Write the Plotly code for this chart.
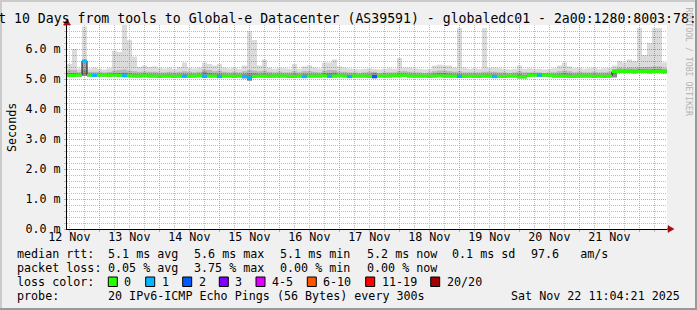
import plotly.graph_objects as go
import pandas as pd

# ---------------- data ----------------
start_time = "2025-11-12 11:04:21"
end_time = "2025-11-22 11:04:21"
bin_hours = 2

# median rtt per 2-hour bin (ms)
med = [5.12, 5.12, 5.13, 5.60, 5.13, 5.12, 5.13, 5.13, 5.12, 5.13,
       5.12, 5.11, 5.11, 5.10, 5.10, 5.11, 5.10, 5.10, 5.09, 5.10,
       5.10, 5.09, 5.10, 5.09, 5.10, 5.10, 5.11, 5.09, 5.10, 5.10,
       5.08, 5.10, 5.10, 5.09, 5.10, 5.08, 5.04, 5.09, 5.10, 5.10,
       5.09, 5.10, 5.10, 5.10, 5.09, 5.09, 5.10, 5.08, 5.10, 5.10,
       5.10, 5.11, 5.09, 5.10, 5.11, 5.10, 5.08, 5.10, 5.10, 5.10,
       5.09, 5.08, 5.10, 5.10, 5.10, 5.11, 5.11, 5.12, 5.10, 5.10,
       5.10, 5.10, 5.09, 5.10, 5.11, 5.10, 5.10, 5.10, 5.09, 5.09,
       5.10, 5.09, 5.09, 5.10, 5.10, 5.08, 5.09, 5.09, 5.10, 5.10,
       5.07, 5.07, 5.12, 5.13, 5.12, 5.13, 5.12, 5.10, 5.10, 5.10,
       5.09, 5.09, 5.10, 5.10, 5.10, 5.09, 5.10, 5.09, 5.10, 5.25,
       5.25, 5.25, 5.25, 5.24, 5.25, 5.25, 5.24, 5.25, 5.25, 5.24]

# lost pings (of 20) per bin
loss = [0, 0, 0, 1, 0, 1, 0, 0, 0, 0,
        0, 1, 0, 0, 0, 0, 0, 0, 0, 0,
        0, 0, 0, 1, 0, 0, 0, 1, 0, 0,
        1, 0, 0, 0, 0, 1, 1, 0, 0, 0,
        0, 0, 0, 0, 0, 0, 0, 1, 0, 0,
        0, 0, 1, 0, 0, 0, 1, 0, 0, 0,
        0, 2, 0, 0, 0, 0, 0, 0, 0, 0,
        0, 0, 0, 0, 0, 0, 0, 0, 1, 0,
        0, 0, 0, 0, 0, 1, 0, 0, 0, 0,
        0, 0, 0, 0, 1, 0, 0, 0, 0, 0,
        0, 0, 0, 0, 0, 0, 0, 0, 0, 0,
        0, 0, 0, 0, 0, 0, 0, 0, 0, 0]

# smoke: min ping, 75th pct, 90th pct, max ping (ms)
smin = [5.08, 5.08, 5.08, 5.10, 5.08, 5.07, 5.08, 5.08, 5.07, 5.08,
        5.07, 5.06, 5.06, 5.05, 5.05, 5.06, 5.05, 5.05, 5.04, 5.05,
        5.05, 5.04, 5.05, 5.04, 5.05, 5.05, 5.06, 5.03, 5.05, 5.05,
        5.03, 5.05, 5.05, 5.04, 5.05, 5.02, 4.94, 5.04, 5.05, 5.05,
        5.04, 5.05, 5.05, 5.05, 5.04, 5.04, 5.05, 5.03, 5.05, 5.05,
        5.05, 5.06, 5.04, 5.05, 5.06, 5.05, 5.03, 5.05, 5.05, 5.05,
        5.04, 5.02, 5.05, 5.05, 5.05, 5.06, 5.06, 5.07, 5.05, 5.05,
        5.05, 5.05, 5.04, 5.05, 5.06, 5.05, 5.05, 5.05, 5.03, 5.04,
        5.05, 5.04, 5.04, 5.05, 5.05, 5.03, 5.04, 5.04, 5.05, 5.05,
        5.02, 5.02, 5.07, 5.08, 5.07, 5.08, 5.07, 5.05, 5.05, 5.05,
        5.04, 5.04, 5.05, 5.05, 5.05, 5.04, 5.05, 5.04, 5.05, 5.05,
        5.20, 5.20, 5.20, 5.19, 5.20, 5.20, 5.19, 5.20, 5.20, 5.19]

p75 = [5.20, 5.20, 5.18, 5.62, 5.18, 5.17, 5.18, 5.17, 5.18, 5.20,
       5.20, 5.21, 5.19, 5.17, 5.16, 5.17, 5.16, 5.16, 5.15, 5.16,
       5.16, 5.15, 5.16, 5.17, 5.16, 5.15, 5.17, 5.24, 5.20, 5.18,
       5.18, 5.16, 5.15, 5.16, 5.15, 5.17, 5.20, 5.19, 5.17, 5.18,
       5.16, 5.15, 5.16, 5.15, 5.15, 5.17, 5.15, 5.17, 5.17, 5.16,
       5.15, 5.19, 5.20, 5.21, 5.16, 5.16, 5.15, 5.15, 5.14, 5.15,
       5.16, 5.20, 5.14, 5.15, 5.15, 5.16, 5.18, 5.18, 5.16, 5.15,
       5.15, 5.14, 5.15, 5.18, 5.20, 5.19, 5.18, 5.16, 5.17, 5.15,
       5.15, 5.15, 5.15, 5.16, 5.16, 5.16, 5.15, 5.15, 5.14, 5.15,
       5.17, 5.14, 5.18, 5.19, 5.18, 5.18, 5.17, 5.16, 5.17, 5.19,
       5.17, 5.15, 5.16, 5.15, 5.15, 5.16, 5.15, 5.15, 5.16, 5.31,
       5.32, 5.31, 5.32, 5.31, 5.33, 5.33, 5.32, 5.33, 5.33, 5.31]

p90 = [5.30, 5.30, 5.24, 5.30, 5.24, 5.24, 5.24, 5.22, 5.24, 5.28,
       5.30, 5.32, 5.28, 5.26, 5.24, 5.25, 5.24, 5.24, 5.22, 5.22,
       5.24, 5.22, 5.24, 5.26, 5.24, 5.22, 5.24, 5.32, 5.30, 5.26,
       5.28, 5.24, 5.22, 5.24, 5.22, 5.26, 5.30, 5.28, 5.26, 5.28,
       5.24, 5.22, 5.24, 5.22, 5.22, 5.26, 5.22, 5.26, 5.26, 5.24,
       5.22, 5.28, 5.30, 5.30, 5.24, 5.24, 5.22, 5.22, 5.20, 5.22,
       5.24, 5.24, 5.20, 5.22, 5.22, 5.22, 5.26, 5.26, 5.24, 5.22,
       5.22, 5.20, 5.22, 5.26, 5.28, 5.28, 5.26, 5.24, 5.26, 5.22,
       5.22, 5.22, 5.22, 5.24, 5.24, 5.24, 5.22, 5.22, 5.20, 5.22,
       5.26, 5.22, 5.22, 5.22, 5.22, 5.20, 5.22, 5.22, 5.26, 5.28,
       5.26, 5.22, 5.24, 5.22, 5.22, 5.24, 5.22, 5.22, 5.24, 5.34,
       5.38, 5.36, 5.38, 5.38, 5.40, 5.40, 5.40, 5.42, 5.42, 5.36]

smax = [5.50, 6.00, 5.35, 6.75, 5.35, 5.38, 5.35, 5.32, 5.36, 5.95,
        5.90, 6.80, 6.30, 5.75, 5.40, 5.45, 5.40, 5.42, 5.38, 5.35,
        5.38, 5.34, 5.40, 5.55, 5.38, 5.35, 5.38, 5.55, 5.50, 5.45,
        5.50, 5.38, 5.35, 5.38, 5.34, 5.45, 6.60, 6.30, 5.45, 5.65,
        5.38, 5.34, 5.38, 5.36, 5.34, 5.50, 5.34, 5.42, 5.45, 5.38,
        5.35, 5.55, 5.55, 5.65, 5.42, 5.38, 5.35, 5.34, 5.32, 5.34,
        5.36, 5.34, 5.32, 5.34, 5.36, 5.34, 5.70, 5.38, 5.38, 5.36,
        5.34, 5.32, 5.34, 5.45, 5.48, 5.45, 5.45, 5.38, 6.70, 5.38,
        5.34, 5.36, 5.34, 6.70, 5.38, 5.38, 5.36, 5.34, 5.32, 5.34,
        5.45, 5.34, 5.36, 5.34, 5.34, 5.32, 5.34, 5.36, 5.45, 5.55,
        5.42, 5.36, 5.38, 5.34, 5.36, 5.38, 5.34, 5.36, 5.38, 5.45,
        5.60, 5.55, 5.65, 5.60, 6.70, 5.80, 6.20, 6.70, 6.70, 5.55]

day_ticks = ["2025-11-%02d 12:00" % d for d in range(12, 22)]
day_labels = ["12 Nov", "13 Nov", "14 Nov", "15 Nov", "16 Nov",
              "17 Nov", "18 Nov", "19 Nov", "20 Nov", "21 Nov"]

title_text = "Last 10 Days from tools to Global-e Datacenter (AS39591) - globaledc01 - 2a00:1280:8003:78::2"
row1 = [("median rtt:", 16), ("5.1 ms avg", 107.3), ("5.6 ms max", 193.3),
        ("5.1 ms min", 279.3), ("5.2 ms now", 365.7), ("0.1 ms sd", 451),
        ("97.6   am/s", 530)]
row2 = [("packet loss:", 16), ("0.05 % avg", 107.3), ("3.75 % max", 193.3),
        ("0.00 % min", 279.3), ("0.00 % now", 365.7)]
loss_labels = ["0", "1", "2", "3", "4-5", "6-10", "11-19", "20/20"]
loss_colors = ["#26ff00", "#00b8ff", "#0059ff", "#7e00ff",
               "#dd00ff", "#ff5500", "#ff0000", "#a10000"]
probe_text = "20 IPv6-ICMP Echo Pings (56 Bytes) every 300s"
stamp_text = "Sat Nov 22 11:04:21 2025"

# ---------------- layout geometry ----------------
W, H = 697, 310
L, T = 67, 25
PW, PH = 600, 204
B = H - T - PH
R = W - L - PW
FONT = "DejaVu Sans Mono"


def px(x):
    return (x - L) / PW


def py(y):
    return (T + PH - y) / PH


t0 = pd.Timestamp(start_time)
n = len(med)
bw = pd.Timedelta(hours=bin_hours)
xc = [t0 + bw * i + bw / 2 for i in range(n)]
edges = [t0 + bw * i for i in range(n + 1)]
bw_ms = bw.total_seconds() * 1000


def loss_class(k):
    if k <= 0:
        return 0
    if k <= 3:
        return k
    if k <= 5:
        return 4
    if k <= 10:
        return 5
    if k <= 19:
        return 6
    return 7


fig = go.Figure()
# smoke
fig.add_trace(go.Bar(x=xc, base=smin, y=[a - b for a, b in zip(smax, smin)], width=bw_ms,
                     marker=dict(color="rgba(0,0,0,0.14)", line_width=0), hoverinfo="skip"))
fig.add_trace(go.Bar(x=xc, base=smin, y=[a - b for a, b in zip(p90, smin)], width=bw_ms,
                     marker=dict(color="rgba(0,0,0,0.16)", line_width=0), hoverinfo="skip"))
fig.add_trace(go.Bar(x=xc, base=smin, y=[a - b for a, b in zip(p75, smin)], width=bw_ms,
                     marker=dict(color="rgba(0,0,0,0.22)", line_width=0), hoverinfo="skip"))
# thin median line (drawn above smoke, below coloured median)
fig.add_trace(go.Scatter(x=edges, y=med + [med[-1]], mode="lines", line_shape="hv",
                         line=dict(color="#101010", width=1), hoverinfo="skip"))
# coloured median on the overlay axis so it sits on top
fig.add_trace(go.Bar(x=xc, base=[m - 0.05 for m in med], y=[0.1] * n, width=bw_ms,
                     marker=dict(color=[loss_colors[loss_class(k)] for k in loss], line_width=0),
                     xaxis="x2", hoverinfo="skip"))

MGRID = "#ff8c8c"
GRID = "#bdbdbd"
DASH = "1px 1px"

fig.update_layout(
    width=W, height=H, margin=dict(l=L, r=R, t=T, b=B, pad=0),
    paper_bgcolor="#f0f0f0", plot_bgcolor="#ffffff",
    barmode="overlay", showlegend=False,
    font=dict(family=FONT, size=11.7, color="#000"),
    title=dict(text=title_text, x=343.5 / W, xref="container", xanchor="center",
               y=1 - 18 / H, yref="container", yanchor="middle",
               font=dict(family=FONT, size=13.2, color="#000")),
    xaxis=dict(range=[start_time, end_time], type="date", tickmode="array",
               tickvals=day_ticks, ticktext=day_labels, showgrid=False, ticks="",
               showline=True, linecolor="#000", linewidth=1, zeroline=False,
               tickfont=dict(family=FONT, size=11.7), ticklabelstandoff=-3),
    xaxis2=dict(range=[start_time, end_time], type="date", overlaying="x", matches="x",
                anchor="y", side="bottom", showticklabels=False,
                tickmode="linear", tick0="2025-11-12 00:00", dtick=86400000,
                showgrid=True, gridcolor=MGRID, griddash=DASH, gridwidth=1,
                ticks="outside", ticklen=2, tickcolor=MGRID, showline=False, zeroline=False,
                minor=dict(tickmode="linear", tick0="2025-11-12 00:00", dtick=21600000,
                           showgrid=True, gridcolor=GRID, griddash=DASH, gridwidth=1,
                           ticks="outside", ticklen=2, tickcolor=GRID)),
    yaxis=dict(range=[0, PH / 30.0], tickmode="linear", tick0=0, dtick=1,
               tickformat=".1f", ticksuffix=" m", showgrid=True, gridcolor=MGRID,
               griddash=DASH, gridwidth=1, zeroline=False, showline=True,
               linecolor="#000", linewidth=1, ticks="outside", ticklen=2, tickcolor=MGRID,
               ticklabelstandoff=1, tickfont=dict(family=FONT, size=11.7),
               minor=dict(tickmode="linear", tick0=0, dtick=0.2, showgrid=True,
                          gridcolor=GRID, griddash=DASH, gridwidth=1,
                          ticks="outside", ticklen=2, tickcolor=GRID)),
)

ann = []
shapes = []


def text(s, x, y, xanchor="left", size=11.7, color="#000", angle=0, yanchor="middle"):
    ann.append(dict(text=s.replace(" ", "\u00a0"), x=px(x), y=py(y), xref="paper", yref="paper",
                    xanchor=xanchor, yanchor=yanchor, showarrow=False, borderpad=0,
                    textangle=angle, font=dict(family=FONT, size=size, color=color)))


text("Seconds", 12, 128, xanchor="center", angle=-90)
for s, x in row1:
    text(s, x, 254)
for s, x in row2:
    text(s, x, 268)
text("loss color:", 16, 282)
box_x = [108.3, 145.7, 182.7, 219.3, 256, 307.3, 365.7, 430.7]
for lab, col, bx in zip(loss_labels, loss_colors, box_x):
    shapes.append(dict(type="rect", xref="paper", yref="paper", x0=px(bx), x1=px(bx + 9),
                       y0=py(286.5), y1=py(277), fillcolor=col,
                       line=dict(color="#000", width=1)))
    text(lab, bx + 15, 282)
text("probe:", 16, 296)
text(probe_text, 107.3, 296)
text(stamp_text, 681, 296, xanchor="right")
text("RRDTOOL / TOBI OETIKER", 689, 6, xanchor="center", yanchor="top", size=8.2,
     color="#b4b4b4", angle=90)

# frame / border
for x0, y0, x1, y1, c in [(0, 0, W, 2, "#cbcbcb"), (0, 0, 2, H, "#cbcbcb"),
                          (0, H - 2, W, H, "#999999"), (W - 2, 0, W, H, "#999999")]:
    shapes.append(dict(type="rect", xref="paper", yref="paper", x0=px(x0), x1=px(x1),
                       y0=py(y1), y1=py(y0), fillcolor=c, line_width=0, layer="above"))

# axis extensions and arrowheads
bottom = T + PH
shapes.append(dict(type="line", xref="paper", yref="paper", x0=px(L), x1=px(L),
                   y0=py(T), y1=py(22), line=dict(color="#000", width=1)))
shapes.append(dict(type="line", xref="paper", yref="paper", x0=px(L + PW), x1=px(L + PW + 3),
                   y0=py(bottom), y1=py(bottom), line=dict(color="#000", width=1)))
ARROW = "#a01010"
shapes.append(dict(type="path", xref="paper", yref="paper",
                   path="M %f,%f L %f,%f L %f,%f Z" % (px(L - 3.5), py(25), px(L + 3.5), py(25), px(L), py(19)),
                   fillcolor=ARROW, line=dict(color=ARROW, width=0.5)))
shapes.append(dict(type="path", xref="paper", yref="paper",
                   path="M %f,%f L %f,%f L %f,%f Z" % (px(L + PW + 1), py(bottom - 3.5), px(L + PW + 1), py(bottom + 3.5), px(L + PW + 7), py(bottom)),
                   fillcolor=ARROW, line=dict(color=ARROW, width=0.5)))

fig.update_layout(annotations=ann, shapes=shapes)
fig.write_html("out.html")
